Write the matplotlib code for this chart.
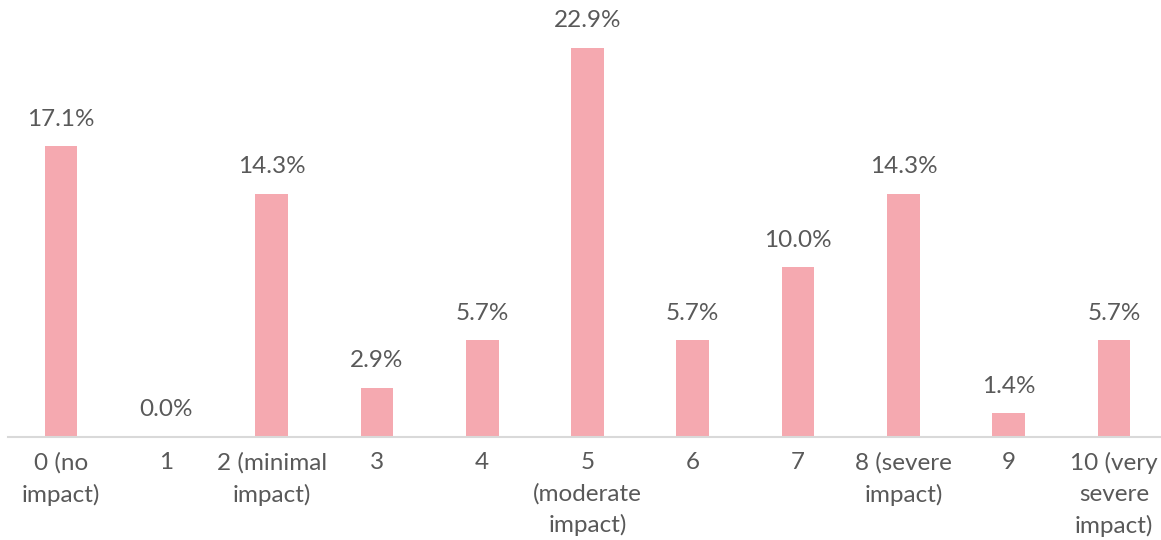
import matplotlib
matplotlib.use("Agg")
import matplotlib.pyplot as plt

categories = ["0 (no\nimpact)", "1", "2 (minimal\nimpact)", "3", "4",
              "5\n(moderate\nimpact)", "6", "7", "8 (severe\nimpact)", "9",
              "10 (very\nsevere\nimpact)"]
percentages = [17.1, 0.0, 14.3, 2.9, 5.7, 22.9, 5.7, 10.0, 14.3, 1.4, 5.7]

BAR_COLOR = "#F5A9B0"
TEXT_COLOR = "#595959"
AXIS_COLOR = "#D9D9D9"

plt.rcParams["font.family"] = ["Lato", "DejaVu Sans"]

W, H = 1161, 540
fig = plt.figure(figsize=(W / 100, H / 100), dpi=100)

# axes box in pixel terms: baseline at y=437, 11 slots of ~105.3 px starting at x=8.4
left_px, right_px = 8.4, 1166.6
base_px = 437.0
ymax = 25.0
px_per_unit = 16.99
top_px = base_px - ymax * px_per_unit
ax = fig.add_axes([left_px / W, 1 - base_px / H,
                   (right_px - left_px) / W, (base_px - top_px) / H])

x = list(range(len(categories)))
ax.bar(x, percentages, width=0.31, color=BAR_COLOR, zorder=2)

for xi, v in zip(x, percentages):
    ax.annotate(f"{v:.1f}%", (xi, v), xytext=(0, 19.5), textcoords="offset points",
                ha="center", va="center", fontsize=17.5, color=TEXT_COLOR)

ax.set_xlim(-0.5, len(categories) - 0.5)
ax.set_ylim(0, ymax)
ax.set_xticks(x)
ax.set_xticklabels(categories, fontsize=17.5, color=TEXT_COLOR, linespacing=1.55,
                   va="top")
ax.tick_params(axis="x", length=0, pad=11)
ax.set_yticks([])
for side in ("top", "right", "left"):
    ax.spines[side].set_visible(False)
ax.spines["bottom"].set_color(AXIS_COLOR)
ax.spines["bottom"].set_linewidth(1.5)
ax.spines["bottom"].set_zorder(3)

fig.savefig("out.png", dpi=100, facecolor="white")
